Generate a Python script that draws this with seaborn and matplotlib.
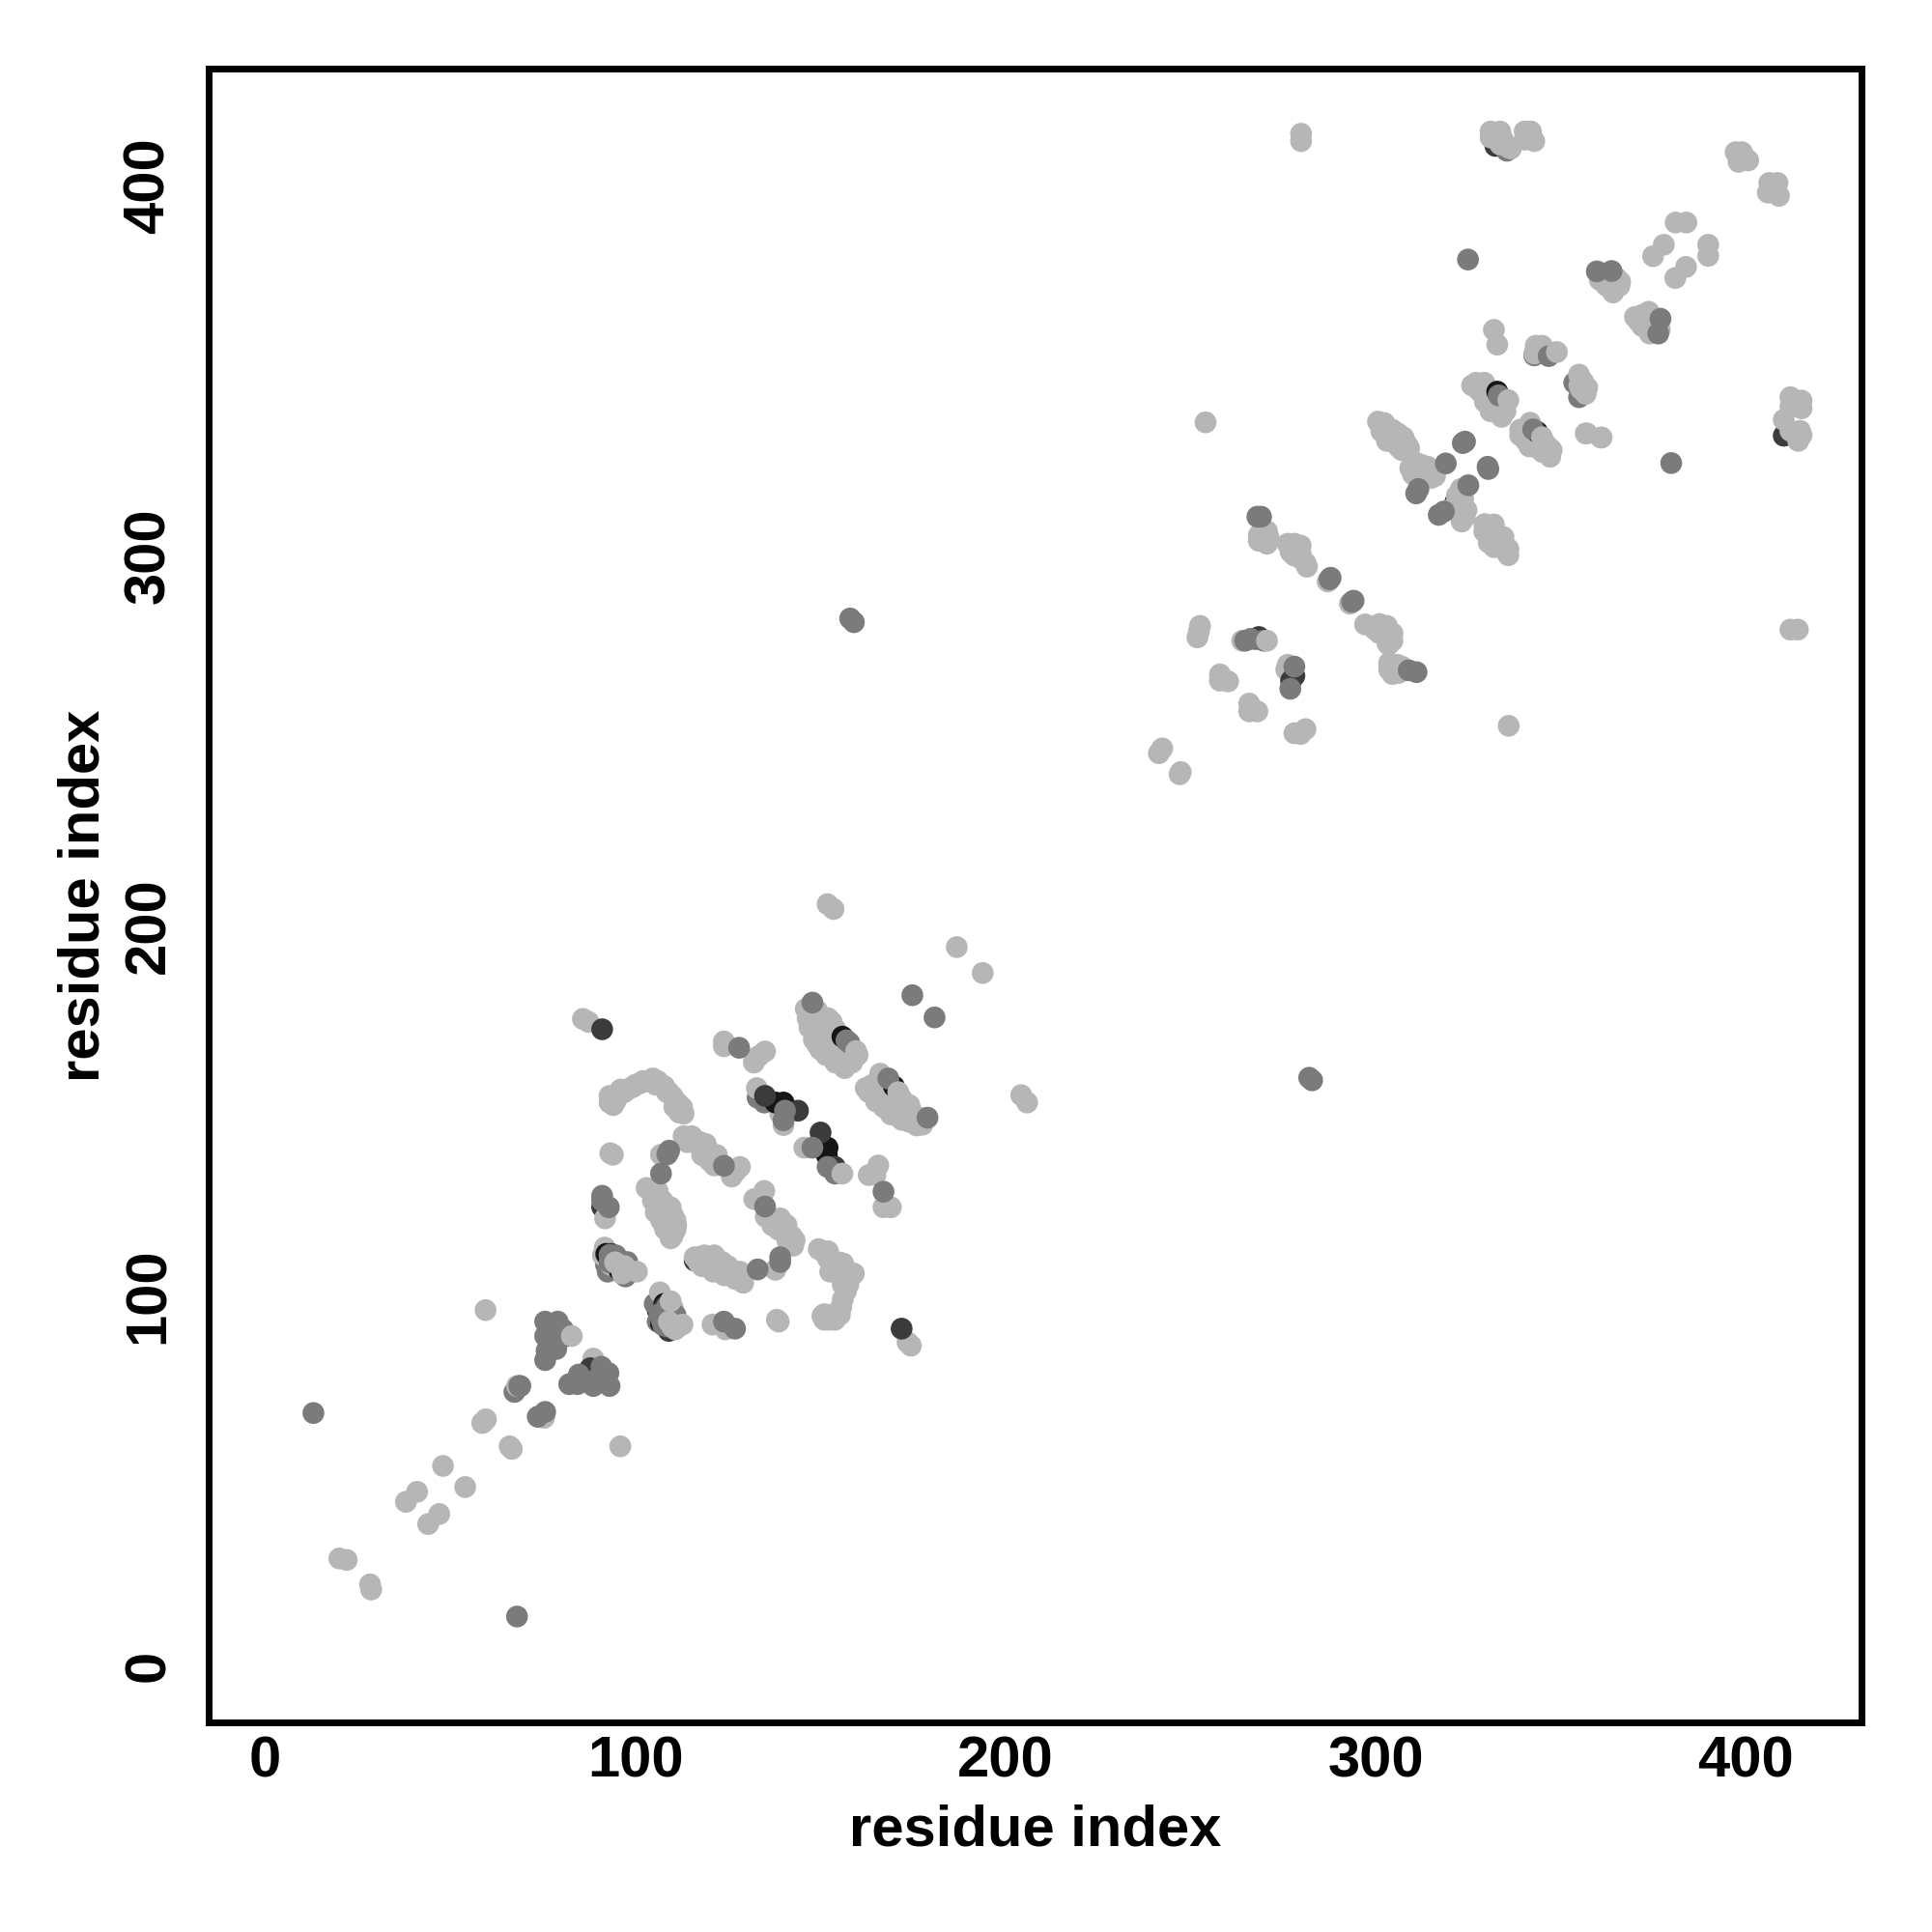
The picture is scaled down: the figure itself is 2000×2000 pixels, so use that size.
import numpy as np
import pandas as pd
import matplotlib
matplotlib.use("Agg")
import matplotlib.pyplot as plt
import seaborn as sns

# values, layers go from bottom to top
under_dark_x = [109.5, 150.0, 156.0, 332.3, 410.2, 116.0, 321.5, 91.0, 93.0, 96.5, 106.0, 108.0, 109.0]
under_dark_y = [116.6, 166.6, 162.5, 410.7, 332.4, 109.5, 314.5, 124.0, 108.0, 106.0, 96.0, 93.0, 90.5]

under_mid_x = [133.0, 134.8, 92.5, 97.3, 105.2, 106.0, 108.6, 92.0, 335.4, 342.8, 353.6, 354.9, 75.6, 68.9,
               67.3, 74.0, 110.0, 165.0, 171.0]
under_mid_y = [153.5, 152.2, 106.5, 105.2, 97.8, 93.0, 91.7, 108.5, 409.4, 354.1, 346.7, 342.8, 82.6, 75.6,
               74.0, 67.3, 92.0, 153.0, 148.5]

light_x = [
    59.5, 95.9, 58.6, 59.6, 59.0, 75.3, 66.0, 66.6, 48.0, 54.0, 38.0, 41.0, 44.0, 47.0, 20.0, 22.0, 28.3, 28.6,
    85.8, 87.3, 123.9, 123.9, 135.0, 133.4, 132.1, 132.0, 146.0, 149.1, 150.0, 152.6, 154.3, 148.2, 150.9, 152.6,
    155.2, 156.0, 157.8, 148.2, 150.0, 155.2, 157.0, 166.1, 162.2, 164.8, 168.3, 171.7, 177.0, 177.5, 166.5, 168.3,
    171.7, 174.4, 173.0, 176.0, 93.0, 94.7, 93.0, 96.0, 101.2, 104.7, 107.8, 110.0, 112.6, 113.0, 110.8, 103.0,
    98.6, 132.8, 140.0, 139.1, 145.6, 149.5, 93.2, 93.9, 106.9, 113.0, 115.2, 116.9, 119.5, 120.8, 121.3, 128.2,
    126.0, 127.0, 165.6, 163.0, 164.8, 167.0, 169.0, 91.8, 103.0, 106.0, 104.7, 107.3, 109.5, 106.9, 110.8, 110.0,
    109.0, 110.8, 132.1, 134.8, 135.2, 139.1, 140.8, 138.7, 142.2, 142.6, 137.8, 116.0, 118.6, 121.3, 119.5, 123.4,
    124.7, 126.5, 128.2, 129.1, 149.5, 150.9, 153.5, 156.1, 158.2, 156.9, 155.6, 155.2, 152.2, 152.2, 153.9, 152.6,
    156.1, 91.7, 91.2, 93.4, 96.0, 106.6, 110.0, 110.8, 120.8, 124.3, 138.2, 138.7, 174.4, 173.5, 88.6, 68.0,
    151.9, 153.5, 186.8, 193.8, 204.2, 205.8, 254.0, 279.8, 279.8, 412.0, 414.0, 335.9, 300.6, 302.3, 304.5, 301.5,
    307.5, 308.4, 306.2, 304.0, 309.3, 312.3, 311.9, 315.4, 315.0, 321.9, 323.6, 322.3, 324.5, 323.2, 329.3, 331.9,
    329.3, 333.2, 335.8, 335.8, 331.9, 331.0, 356.7, 361.0, 269.2, 268.4, 270.6, 270.6, 268.4, 276.2, 278.0, 279.7,
    279.7, 281.4, 287.0, 293.0, 297.1, 299.7, 302.8, 303.6, 303.2, 303.6, 305.8, 306.2, 303.6, 252.5, 251.8, 252.2,
    263.9, 275.8, 276.2, 257.9, 257.9, 260.1, 265.8, 265.8, 268.0, 278.0, 281.0, 279.7, 242.3, 241.4, 247.3, 247.0,
    331.0, 333.6, 332.8, 335.8, 333.6, 340.2, 341.9, 340.2, 342.8, 397.2, 398.9, 398.0, 400.6, 406.3, 408.5, 405.9,
    408.9, 381.0, 383.9, 377.8, 374.9, 389.8, 389.8, 383.8, 380.9, 361.5, 365.0, 362.3, 365.8, 364.1, 371.9, 373.7,
    371.0, 374.1, 376.7, 331.9, 332.8, 343.2, 344.9, 342.8, 354.9, 355.4, 356.7, 357.1, 327.1, 329.3, 328.4, 331.0,
    332.8, 331.0, 334.1, 341.7, 340.2, 340.6, 343.2, 346.7, 347.1, 345.8, 357.0, 360.8, 412.0, 415.0, 412.0, 415.0,
    410.2, 414.6, 412.0, 414.1, 415.0,
]
light_y = [
    96.1, 59.3, 65.6, 66.6, 65.9, 67.0, 59.3, 58.6, 54.0, 48.3, 44.3, 47.0, 38.3, 41.0, 29.0, 28.6, 22.0, 20.6,
    174.8, 174.0, 168.7, 167.4, 166.0, 164.8, 164.0, 163.0, 177.5, 177.0, 174.4, 172.7, 170.0, 172.7, 170.0, 166.6,
    163.1, 162.2, 164.0, 169.2, 166.6, 166.6, 165.7, 160.0, 156.1, 153.5, 150.0, 148.3, 146.6, 146.2, 157.0, 154.4,
    153.5, 150.0, 149.0, 148.0, 152.2, 152.7, 154.0, 155.7, 157.4, 158.7, 156.6, 153.9, 150.9, 149.2, 152.6, 157.9,
    156.1, 156.1, 146.1, 149.2, 140.0, 140.5, 138.5, 138.1, 138.1, 143.1, 143.1, 140.9, 139.6, 137.8, 135.2, 134.8,
    132.2, 133.5, 135.2, 132.6, 132.6, 123.9, 123.9, 120.9, 129.1, 128.3, 125.7, 125.7, 123.9, 120.4, 120.4, 116.1,
    119.6, 117.8, 126.1, 128.3, 121.3, 120.9, 119.1, 117.8, 116.1, 113.5, 107.0, 110.4, 110.9, 110.9, 107.8, 109.1,
    106.5, 105.6, 106.5, 103.5, 112.6, 111.7, 109.1, 108.7, 105.2, 101.3, 97.0, 94.8, 94.8, 93.5, 93.5, 106.5,
    105.7, 113.0, 110.9, 108.3, 109.1, 100.9, 96.9, 90.9, 92.2, 90.9, 93.5, 93.0, 86.5, 87.4, 83.0, 75.6,
    205.8, 204.5, 194.2, 187.2, 154.2, 152.2, 336.0, 414.0, 412.0, 280.0, 280.0, 254.0, 336.2, 335.8, 334.0, 333.6,
    331.9, 330.1, 329.3, 331.0, 323.6, 324.5, 322.3, 322.7, 321.0, 316.2, 315.3, 312.7, 312.3, 309.2, 308.4, 308.4,
    306.5, 304.9, 301.8, 300.1, 302.3, 305.8, 333.0, 331.9, 306.6, 304.0, 306.6, 303.2, 305.5, 303.2, 303.2, 302.7,
    300.5, 297.0, 293.0, 287.0, 281.4, 280.1, 279.7, 277.9, 276.2, 269.2, 270.5, 268.3, 271.0, 281.0, 277.9, 279.5,
    277.0, 269.2, 270.5, 267.9, 266.2, 266.0, 260.0, 257.9, 257.9, 252.0, 253.1, 251.8, 247.9, 246.6, 241.5, 240.9,
    414.6, 414.6, 413.3, 410.3, 411.1, 414.6, 414.6, 412.4, 412.0, 409.0, 409.0, 406.4, 406.8, 400.7, 400.7, 398.1,
    397.2, 390.0, 390.0, 384.0, 380.9, 384.0, 381.0, 378.0, 375.0, 376.3, 375.0, 372.9, 372.9, 371.1, 365.0, 365.9,
    363.3, 361.5, 361.1, 361.0, 357.0, 356.7, 356.7, 354.6, 348.9, 345.0, 343.7, 345.4, 346.7, 346.7, 344.1, 342.4,
    339.3, 340.6, 340.2, 335.9, 333.7, 331.0, 329.3, 327.6, 326.7, 330.2, 333.0, 331.9, 342.8, 341.9, 340.2, 339.8,
    336.7, 333.7, 333.7, 331.0, 332.5,
]

# more light points inside the dense bands
band_x = [
    147.0, 148.5, 149.5, 151.0, 149.0, 151.0, 153.0, 151.5, 153.5, 154.0, 155.5, 152.0, 153.0, 154.0, 157.0, 156.5,
    158.5, 160.0, 146.5, 147.0, 163.0, 165.0, 167.0, 169.0, 172.0, 174.0, 176.0, 167.0, 169.0, 171.0, 173.0, 175.0,
    176.0, 164.0, 165.5, 170.0, 172.0, 174.0, 177.0, 100.0, 106.0, 109.0, 111.5, 112.0, 97.0, 99.5, 102.0, 105.5,
    108.5, 110.5, 111.8, 94.0, 114.0, 116.0, 118.0, 118.0, 120.0, 122.0, 117.5, 119.0, 105.0, 106.0, 107.0, 108.5,
    108.0, 109.5, 105.5, 108.0, 110.0, 111.0, 137.0, 139.0, 141.0, 141.0, 143.0, 136.5, 140.0, 117.0, 118.0, 120.0,
    122.0, 123.0, 125.0, 126.0, 127.0, 128.0, 117.5, 121.0, 124.0, 152.0, 154.0, 155.0, 157.0, 159.0, 155.0, 157.5,
    156.0, 155.0, 151.0, 151.0, 150.5, 157.5, 152.0, 156.0, 303.0, 305.0, 306.0, 307.0, 309.0, 303.0, 311.0, 313.0,
    314.0, 316.0, 316.0, 310.0, 322.0, 323.0, 321.0, 324.0, 323.0, 330.0, 332.0, 333.0, 334.0, 329.5, 330.5, 334.5,
    269.0, 271.0, 269.5, 277.0, 278.0, 280.0, 281.0, 300.0, 301.0, 303.0, 304.5, 301.0, 303.5, 304.5, 305.0, 307.0,
    304.5, 326.0, 327.5, 329.0, 329.5, 331.0, 333.0, 330.5, 335.0, 334.0, 339.0, 341.0, 342.0, 344.0, 345.0, 347.0,
    347.5, 339.0, 341.5, 360.5, 361.5, 363.0, 364.0, 364.0, 366.0, 372.0, 373.0, 375.0, 374.0, 372.5, 370.0, 355.0,
    356.0, 331.0, 334.5, 336.5, 334.0, 335.0,
]
band_y = [
    176.0, 175.0, 172.0, 171.5, 168.0, 168.0, 169.0, 165.0, 165.0, 163.0, 168.0, 175.0, 174.0, 172.0, 163.0, 161.5,
    163.0, 165.0, 175.0, 172.5, 155.0, 152.5, 151.0, 149.0, 147.5, 147.0, 146.0, 156.0, 153.0, 151.0, 150.0, 149.0,
    148.0, 157.0, 155.0, 155.0, 153.0, 151.5, 148.0, 157.0, 158.0, 155.0, 152.0, 150.0, 155.0, 156.5, 158.0, 157.0,
    155.0, 151.0, 149.5, 151.5, 141.5, 142.0, 140.0, 138.0, 136.5, 138.0, 141.5, 141.0, 127.0, 124.0, 122.0, 122.0,
    118.0, 115.5, 122.5, 124.0, 122.0, 119.0, 119.0, 119.0, 117.0, 115.0, 115.0, 121.0, 118.0, 109.0, 108.0, 109.0,
    107.5, 108.0, 108.0, 107.0, 104.5, 105.0, 110.5, 106.5, 105.5, 110.0, 107.5, 109.0, 107.0, 106.0, 106.0, 103.0,
    99.0, 96.0, 95.0, 93.5, 94.5, 105.0, 112.0, 103.0, 333.0, 331.5, 333.0, 328.5, 329.0, 331.0, 325.0, 322.0,
    324.0, 323.0, 321.5, 322.0, 314.0, 318.0, 313.0, 310.5, 311.0, 306.0, 305.0, 303.0, 302.0, 308.5, 303.5, 305.0,
    305.0, 305.0, 304.0, 301.0, 300.0, 299.0, 298.0, 280.0, 279.0, 281.0, 279.0, 281.5, 276.0, 277.0, 269.0, 270.0,
    268.0, 346.0, 345.0, 343.5, 341.5, 339.0, 338.5, 343.0, 339.0, 337.5, 334.0, 332.0, 330.0, 330.0, 328.0, 329.0,
    328.5, 332.5, 329.5, 374.5, 374.0, 374.0, 374.0, 373.0, 374.0, 362.0, 363.0, 363.0, 360.0, 364.5, 364.5, 346.0,
    347.0, 413.0, 412.0, 410.0, 413.0, 411.0,
]

black_x = [155.9, 169.8, 137.8, 140.0, 151.9, 151.7, 92.1, 95.6, 107.8, 106.9, 78.2, 332.8, 343.6, 88.0]
black_y = [170.0, 156.6, 152.2, 152.2, 140.0, 137.9, 111.3, 107.0, 97.8, 92.6, 89.1, 344.3, 333.4, 79.0]

dark_x = [91.0, 135.0, 143.9, 150.0, 153.9, 93.4, 107.9, 81.2, 87.8, 171.9, 267.5, 268.4, 278.0, 277.1]
dark_y = [172.0, 154.0, 150.0, 144.1, 134.8, 111.3, 97.0, 89.1, 80.4, 91.1, 277.5, 278.0, 267.5, 266.2]

mid_x = [
    13.0, 68.0, 75.6, 73.6, 128.0, 147.8, 157.8, 168.3, 178.9, 140.4, 140.0, 151.9, 153.9, 147.8, 109.1, 108.6,
    106.9, 123.9, 167.0, 91.0, 91.0, 92.8, 135.0, 139.1, 139.1, 133.0, 94.7, 97.8, 110.8, 123.9, 126.9, 75.6,
    79.0, 75.6, 80.4, 76.0, 78.6, 82.1, 84.7, 84.3, 90.8, 92.7, 88.6, 93.0, 89.9, 68.6, 174.8, 180.8,
    158.0, 159.0, 282.0, 282.8, 318.9, 311.5, 310.9, 323.5, 324.1, 330.4, 330.2, 325.0, 317.0, 318.4, 268.0, 269.0,
    287.5, 287.8, 293.6, 294.0, 308.9, 311.0, 264.7, 266.2, 269.7, 278.0, 276.9, 324.9, 379.8, 359.7, 363.7, 376.9,
    376.3, 346.7, 333.2, 342.5, 108.5, 109.0, 107.5, 106.5, 107.0, 93.0, 95.0, 93.0, 96.5, 79.0, 78.5, 157.0,
]
mid_y = [
    68.3, 13.3, 68.6, 67.3, 167.0, 179.2, 168.3, 158.7, 148.1, 150.0, 147.4, 134.8, 133.0, 140.0, 139.2, 138.2,
    133.0, 135.1, 128.1, 127.0, 125.7, 123.9, 124.1, 110.4, 109.1, 107.1, 110.9, 109.1, 94.8, 93.0, 91.1, 93.0,
    93.0, 89.1, 90.9, 85.2, 85.6, 76.1, 78.7, 76.1, 80.8, 79.1, 75.6, 75.6, 77.8, 75.6, 181.2, 175.2,
    283.0, 282.0, 158.9, 158.2, 324.9, 318.0, 316.8, 330.4, 330.8, 323.4, 324.0, 319.0, 311.0, 311.9, 310.5, 310.5,
    293.6, 294.0, 287.5, 287.8, 269.0, 268.5, 277.0, 277.5, 277.0, 270.0, 264.0, 380.0, 325.0, 376.8, 376.9, 364.0,
    360.0, 353.9, 343.3, 334.1, 97.0, 95.5, 92.0, 95.0, 93.5, 111.0, 110.0, 109.0, 108.5, 89.5, 87.5, 169.0,
]

top_light_x = [82.8, 155.9, 112.7, 100.4, 159.6, 270.6, 335.8, 344.9, 348.9, 109.5, 109.0, 110.0, 94.5, 97.0, 96.5, 171.0]
top_light_y = [89.1, 133.0, 92.2, 106.5, 166.1, 277.0, 342.0, 332.0, 355.0, 98.5, 93.0, 91.5, 109.0, 108.0, 106.0, 155.0]

tick_values = [0, 100, 200, 300, 400]

GREYS = {"black": "#161616", "dark": "#3b3b3b", "mid": "#7b7b7b", "light": "#b6b6b6"}

layers = [
    (under_dark_x, under_dark_y, "dark"),
    (under_mid_x, under_mid_y, "mid"),
    (light_x, light_y, "light"),
    (band_x, band_y, "light"),
    (black_x, black_y, "black"),
    (dark_x, dark_y, "dark"),
    (mid_x, mid_y, "mid"),
    (top_light_x, top_light_y, "light"),
]
contacts = pd.concat(
    [pd.DataFrame({"i": x, "j": y, "tone": tone}) for x, y, tone in layers],
    ignore_index=True,
)

sns.set_style("white")
plt.rcParams["font.family"] = ["Liberation Sans", "DejaVu Sans"]
plt.rcParams["font.weight"] = "bold"

fig = plt.figure(figsize=(10, 10), dpi=200)
ax = fig.add_axes([0.108, 0.1085, 0.8555, 0.856])

sns.scatterplot(data=contacts, x="i", y="j", hue="tone", palette=GREYS, s=66,
                linewidth=0, legend=False, ax=ax)

ax.set_xlim(-15.3, 431.2)
ax.set_ylim(-15.3, 431.6)
ax.set_xticks(tick_values)
ax.set_yticks(tick_values)
ax.tick_params(axis="both", length=3.2, width=1.1, color="black", labelcolor="black", labelsize=21.5)
ax.tick_params(axis="x", pad=1.5)
ax.tick_params(axis="y", pad=9)
for label in ax.get_yticklabels():
    label.set_rotation(90)
    label.set_va("center")
ax.set_xlabel("residue index", fontsize=21.5, fontweight="bold", color="black", labelpad=6)
ax.set_ylabel("residue index", fontsize=21.5, fontweight="bold", color="black", labelpad=4.5)
for spine in ax.spines.values():
    spine.set_linewidth(2.5)
    spine.set_color("black")

fig.savefig("out.png", dpi=200, facecolor="white")
